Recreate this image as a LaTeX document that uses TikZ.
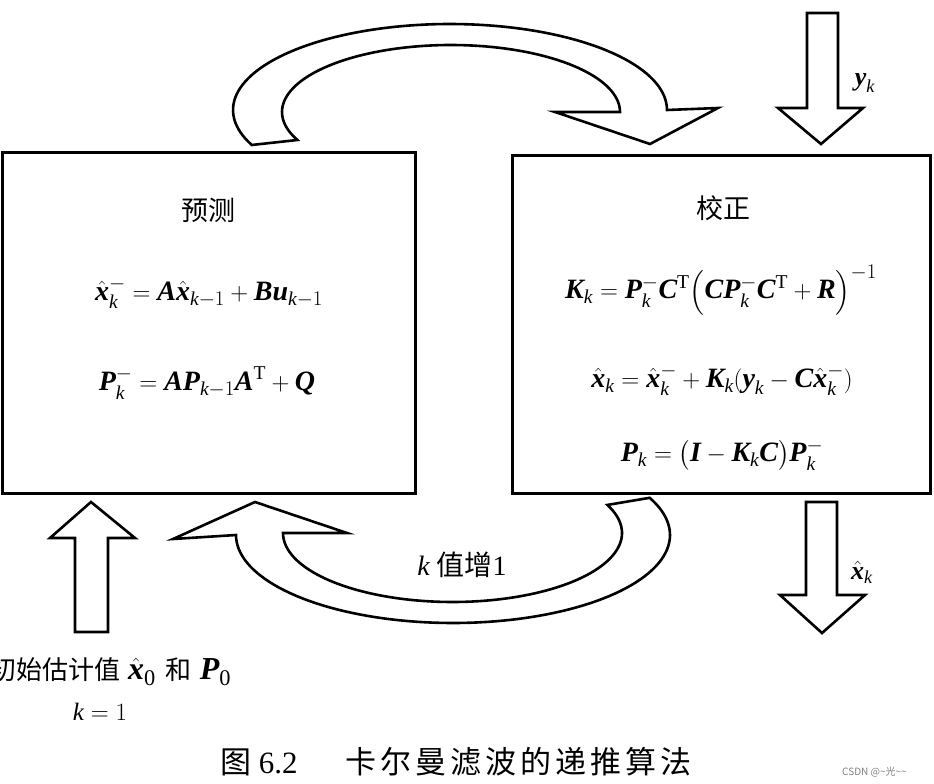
\documentclass[tikz,border=0pt]{standalone}
\usepackage{amsmath}
\usepackage{fontspec}
\setmainfont{Liberation Serif}
\newfontfamily\cjk{Noto Sans CJK SC}
\newfontfamily\cjkcap[LetterSpace=13]{Noto Sans CJK SC}
\newcommand\B[1]{\text{\bfseries\itshape #1}}
\newcommand\Ik{\text{\itshape k}}
\tikzset{
  fatarrow/.style={draw=black, line width=2.6pt, line join=miter, fill=white},
  mainbox/.style={draw=black, line width=3pt, inner sep=0pt},
  eqn/.style={inner sep=0pt, font=\fontsize{28}{32}\selectfont},
  title/.style={inner sep=0pt, font=\fontsize{27}{30}\selectfont\cjk},
  lab/.style={inner sep=0pt, font=\fontsize{26}{30}\selectfont}
}
\begin{document}
\begin{tikzpicture}[x=1pt,y=-1pt]
\useasboundingbox (0,0) rectangle (934,784);
\fill[white] (0,0) rectangle (934,784);

% boxes
\node[mainbox, minimum width=413pt, minimum height=341pt] (pred) at (208.5,322.5) {};
\node[mainbox, minimum width=418pt, minimum height=338pt] (corr) at (721,324) {};

% titles
\node[title] (tpred) at (208,210) {预测};
\node[title] (tcorr) at (723,208) {校正};

% prediction equations
\node[eqn] (p1) at (209,293) {$\hat{\B{x}}_{\Ik}^{-} = \B{A}\hat{\B{x}}_{\Ik-1} + \B{B}\B{u}_{\Ik-1}$};
\node[eqn] (p2) at (207,383) {$\B{P}_{\Ik}^{-} = \B{A}\B{P}_{\Ik-1}\B{A}^{\mathrm{T}} + \B{Q}$};

% correction equations
\node[eqn] (c1) at (721,290) {$\B{K}_{\Ik} = \B{P}_{\Ik}^{-}\B{C}^{\mathrm{T}}\Bigl(\B{C}\B{P}_{\Ik}^{-}\B{C}^{\mathrm{T}}+\B{R}\Bigr)^{-1}$};
\node[eqn] (c2) at (722,380) {$\hat{\B{x}}_{\Ik} = \hat{\B{x}}_{\Ik}^{-} + \B{K}_{\Ik}(\B{y}_{\Ik} - \B{C}\hat{\B{x}}_{\Ik}^{-})$};
\node[eqn] (c3) at (722,455) {$\B{P}_{\Ik} = \bigl(\B{I} - \B{K}_{\Ik}\B{C}\bigr)\B{P}_{\Ik}^{-}$};

% top curved arrow (prediction -> correction)
\draw[fatarrow]
  plot[domain=156:360, samples=90] ({450+217*cos(\x)},{110+86*sin(\x)})
  -- (718,108) -- (650,144) -- (555,112)
  -- plot[domain=360:155.3, samples=90] ({451+169*cos(\x)},{112+67*sin(\x)})
  -- cycle;

% bottom curved arrow (correction -> prediction)
\draw[fatarrow]
  plot[domain=-25:180, samples=90] ({453+217*cos(\x)},{535+88*sin(\x)})
  -- (173,539) -- (255,502) -- (347,533)
  -- plot[domain=180:-24, samples=90] ({452.5+169.5*cos(\x)},{533+69*sin(\x)})
  -- cycle;

% y_k input arrow
\draw[fatarrow] (807,13) -- (838,13) -- (838,108) -- (863,108) -- (821,144) -- (778,108) -- (807,108) -- cycle;
% x_k output arrow
\draw[fatarrow] (806,502) -- (837,502) -- (837,595) -- (865,595) -- (822,633) -- (780,595) -- (806,595) -- cycle;
% initial value arrow
\draw[fatarrow] (75,632) -- (108,632) -- (108,538) -- (135,538) -- (91,502) -- (50,538) -- (75,538) -- cycle;

% labels
\node[lab] (yk) at (865,83) {$\B{y}_{\Ik}$};
\node[lab] (xk) at (862,572) {$\hat{\B{x}}_{\Ik}$};
\node[lab, font=\fontsize{28}{32}\selectfont] (kinc) at (462,565) {$\Ik$ {\cjk 值增}1};
\node[lab, anchor=west, font=\fontsize{26}{30}\selectfont] (init) at (-10,672) {{\cjk 初始估计值}\hspace{8pt}{\fontsize{32}{34}\selectfont$\hat{\B{x}}_{\mathrm{0}}$}\hspace{10pt}{\cjk 和}\hspace{8pt}{\fontsize{32}{34}\selectfont$\B{P}_{\mathrm{0}}$}};
\node[lab, font=\fontsize{25}{28}\selectfont] (kone) at (100,712) {$\Ik = 1$};

% caption
\node[inner sep=0pt, anchor=west, font=\fontsize{31}{34}\selectfont] (capa) at (220,762) {{\cjk 图} 6.2};
\node[inner sep=0pt, anchor=west, font=\fontsize{31}{34}\selectfont\cjkcap] (capb) at (345,762) {卡尔曼滤波的递推算法};
\node[inner sep=0pt, anchor=west, text=gray, font=\fontsize{10}{12}\selectfont\cjk] (wm) at (842,772) {CSDN @\textasciitilde 光\textasciitilde\textasciitilde};
\end{tikzpicture}
\end{document}
